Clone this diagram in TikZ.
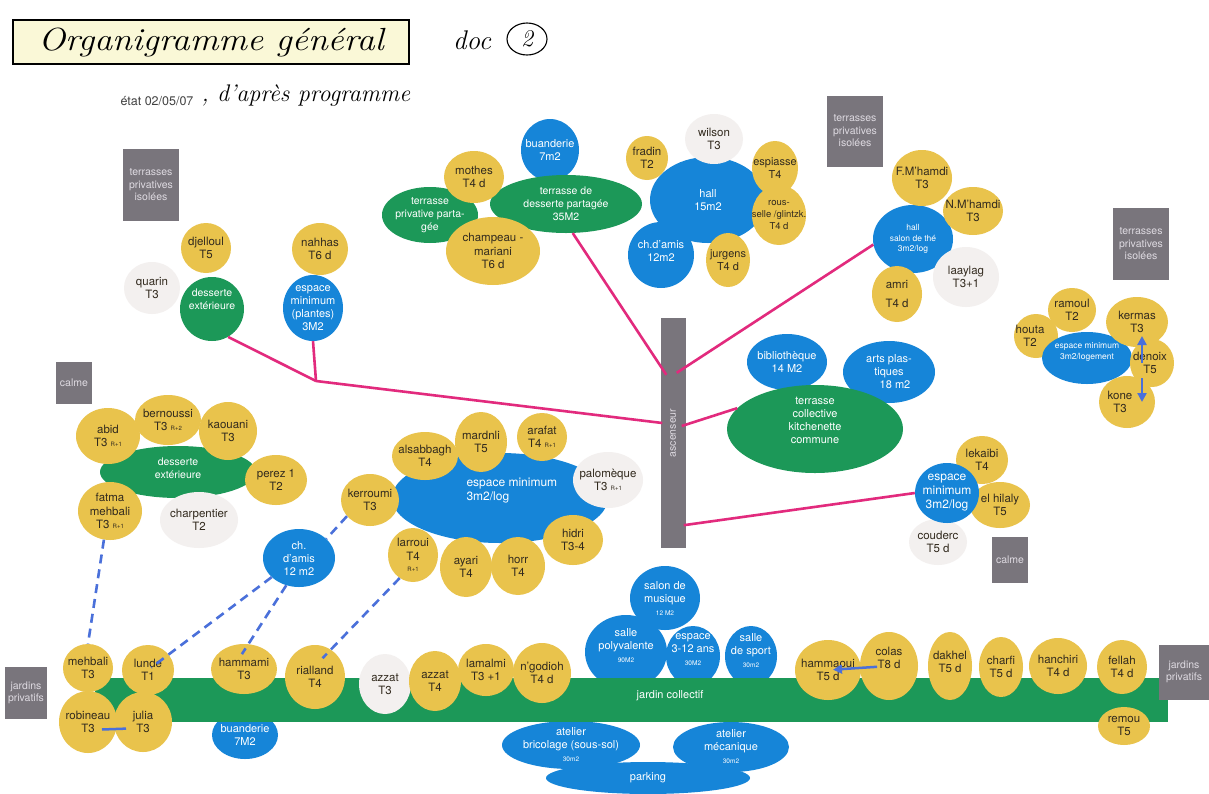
\documentclass[tikz,border=0pt]{standalone}
\usepackage{fontspec}
\setsansfont{TeX Gyre Heros}
\usetikzlibrary{shapes.geometric,arrows.meta,calc}
\definecolor{cy}{RGB}{233,195,76}
\definecolor{cb}{RGB}{22,133,216}
\definecolor{cg}{RGB}{28,152,88}
\definecolor{cw}{RGB}{243,240,239}
\definecolor{cgr}{RGB}{121,117,124}
\definecolor{cgt}{RGB}{222,218,225}
\definecolor{cpk}{RGB}{226,42,125}
\definecolor{cdash}{RGB}{74,112,218}
\definecolor{ctx}{RGB}{50,42,30}
\definecolor{cfill}{RGB}{250,248,215}
\newcommand\fsy{\sffamily\fontsize{11.5}{13.5}\selectfont}
\newcommand\fsz{\sffamily\fontsize{11}{13}\selectfont}
\newcommand\fsg{\sffamily\fontsize{10.5}{13}\selectfont}
\newcommand\fss{\sffamily\fontsize{8.5}{10.5}\selectfont}
\newcommand\fsl{\sffamily\fontsize{12}{14}\selectfont}
\newcommand\fst{\sffamily\fontsize{6.5}{8}\selectfont}
\newcommand\fsr{\sffamily\fontsize{6}{7}\selectfont}
\newcommand\bub[8][]{%
\node[#2, minimum width=#6pt, minimum height=#7pt] (#3) at (#4,#5) {};
\node[#2 t, #1] (#3-t) at (#3.center) {#8};}
\tikzset{
yel/.style={ellipse, fill=cy, inner sep=0pt},
yel t/.style={font=\fsy, text=ctx, align=center},
blu/.style={ellipse, fill=cb, inner sep=0pt},
blu t/.style={font=\fsz, text=white, align=center},
grn/.style={ellipse, fill=cg, inner sep=0pt},
grn t/.style={font=\fsg, text=white, align=center},
wht/.style={ellipse, fill=cw, inner sep=0pt},
wht t/.style={font=\fsy, text=ctx, align=center},
gbox/.style={rectangle, fill=cgr, inner sep=0pt},
gbox t/.style={font=\sffamily\fontsize{10.5}{12.5}\selectfont, text=cgt, align=center},
pk/.style={draw=cpk, line width=2.6pt},
dsh/.style={draw=cdash, line width=2.6pt, dash pattern=on 9pt off 6pt},
barr/.style={draw=cdash, line width=2.5pt, -{Triangle[width=9pt,length=9pt]}},
hand/.style={font=\rmfamily\itshape\fontsize{#1}{#1}\selectfont, text=black}
}
\begin{document}
\begin{tikzpicture}[x=1pt,y=-1pt]
\useasboundingbox (0,0) rectangle (1209,793);
\fill[white] (0,0) rectangle (1209,793);
% title
\node[draw=black, line width=1.1pt, fill=cfill, minimum width=396pt, minimum height=44pt, inner sep=0pt] (tbox) at (211,42) {};
\node[hand=32] (ttl) at (tbox.center) {\scalebox{1.12}[1]{Organigramme général}};
\node[hand=27] (doc) at (472,40) {doc};
\node[ellipse, draw=black, line width=1.1pt, inner sep=0pt, minimum width=40pt, minimum height=32pt, hand=24] (two) at (527,39) {2};
\node[font=\sffamily\fontsize{12.5}{14}\selectfont, text=black!75] (etat) at (157,101) {état 02/05/07};
\node[hand=24, anchor=west] (dap) at (198,96) {, d'après programme};
% top-left cluster
\bub{gbox}{ter1}{151}{185}{56}{72}{terrasses\\privatives\\isolées}
\bub{wht}{quar}{152}{288}{56}{52}{quarin\\T3}
\bub{yel}{djel}{206}{248}{50}{50}{djelloul\\T5}
\bub[yshift=10pt]{grn}{dext}{212}{309}{64}{64}{desserte\\extérieure}
\bub{yel}{nahh}{320}{249}{56}{52}{nahhas\\T6 d}
\bub{blu}{espp}{313}{308}{60}{66}{espace\\minimum\\(plantes)\\3M2}
% top center cluster
\bub{grn}{tpp}{430}{215}{96}{56}{terrasse\\privative parta-\\gée}
\bub{blu}{buan}{550}{150}{58}{62}{buanderie\\7m2}
\bub{grn}{tdp}{566}{204}{152}{58}{terrasse de\\desserte partagée\\35M2}
\bub{yel}{moth}{474}{177}{60}{52}{mothes\\T4 d}
\bub{yel}{champ}{493}{251}{94}{68}{champeau -\\mariani\\T6 d}
\bub{blu}{hall}{708}{200}{116}{86}{hall\\15m2}
\bub{wht}{wils}{714}{139}{58}{50}{wilson\\T3}
\bub{yel}{frad}{647}{158}{42}{44}{fradin\\T2}
\bub[yshift=4pt]{blu}{chda}{661}{255}{66}{66}{ch.d'amis\\12m2}
\bub[font=\fsz]{yel}{jurg}{728}{260}{44}{54}{jurgens\\T4 d}
\bub[font=\fsz]{yel}{espi}{775}{168}{46}{54}{espiasse\\T4}
\bub[font=\sffamily\fontsize{9.5}{12}\selectfont]{yel}{rous}{779}{215}{54}{60}{rous-\\selle /glintzk.\\T4 d}
% top right cluster
\bub{gbox}{ter2}{855}{131}{56}{71}{terrasses\\privatives\\isolées}
\bub[font=\fss]{blu}{hst}{913}{239}{80}{68}{hall\\salon de thé\\3m2/log}
\bub{yel}{fm}{922}{178}{60}{56}{F.M'hamdi\\T3}
\bub{yel}{nm}{973}{211}{60}{48}{N.M'hamdi\\T3}
\bub{yel}{amri}{897}{294}{50}{56}{amri\\[5pt]T4 d}
\bub{wht}{laay}{966}{277}{66}{60}{laaylag\\T3+1}
\bub{gbox}{ter3}{1141}{244}{56}{72}{terrasses\\privatives\\isolées}
% right cluster
\bub[xshift=-6pt]{yel}{hout}{1036}{336}{44}{44}{houta\\T2}
\bub{yel}{ramo}{1072}{310}{48}{44}{ramoul\\T2}
\bub[font=\fss,yshift=6pt]{blu}{emlog}{1087}{358}{90}{52}{espace minimum\\3m2/logement}
\bub{yel}{kerm}{1137}{322}{62}{50}{kermas\\T3}
\bub[xshift=-2pt]{yel}{denx}{1152}{363}{44}{48}{denoix\\T5}
\bub[xshift=-7pt]{yel}{kone}{1127}{402}{56}{52}{kone\\T3}
% left middle cluster
\bub{gbox}{calm1}{74}{383}{36}{42}{calme}
\bub[yshift=4pt]{grn}{dext2}{178}{472}{156}{52}{desserte\\extérieure}
\bub{yel}{bern}{168}{420}{66}{50}{bernoussi\\T3 {\fsr R+2}}
\bub{yel}{abid}{108}{436}{64}{56}{abid\\T3 {\fsr R+1}}
\bub{yel}{kaou}{228}{431}{58}{58}{kaouani\\T3}
\bub{yel}{pere}{276}{480}{62}{50}{perez 1\\T2}
\bub{yel}{fatm}{110}{511}{64}{58}{fatma\\mehbali\\T3 {\fsr R+1}}
\bub{wht}{charp}{199}{520}{78}{56}{charpentier\\T2}
\bub{blu}{chd2}{299}{558}{72}{58}{ch.\\d'amis\\12 m2}
% center cluster
\node[blu, minimum width=216pt, minimum height=90pt] (emc) at (500,498) {};
\node[font=\fsl, text=white, align=left, anchor=west] (emc-t) at (463,491) {espace minimum\\3m2/log};
\bub{yel}{alsa}{425}{456}{66}{48}{alsabbagh\\T4}
\bub{yel}{mard}{481}{442}{52}{60}{mardnli\\T5}
\bub{yel}{araf}{542}{437}{50}{48}{arafat\\T4 {\fsr R+1}}
\bub{wht}{palo}{608}{480}{70}{56}{palomèque\\T3 {\fsr R+1}}
\bub{yel}{kerr}{370}{500}{58}{52}{kerroumi\\T3}
\bub{yel}{hidr}{573}{540}{60}{50}{hidri\\T3-4}
\bub{yel}{larr}{413}{555}{50}{54}{larroui\\T4\\[-2pt]{\fsr R+1}}
\bub{yel}{ayar}{466}{567}{52}{60}{ayari\\T4}
\bub{yel}{horr}{518}{566}{54}{58}{horr\\T4}
% right middle
\node[gbox, minimum width=25pt, minimum height=230pt] (asc) at (673,433) {};
\node[gbox t, rotate=90] (asc-t) at (asc.center) {ascenseur};
\bub{blu}{bib}{787}{362}{80}{56}{bibliothèque\\14 M2}
\bub{blu}{arts}{889}{372}{92}{62}{arts plas-\\tiques\\\hspace*{12pt}18 m2}
\bub[yshift=9pt,font=\fsz]{grn}{tck}{815}{429}{176}{88}{terrasse\\collective\\kitchenette\\commune}
\bub{yel}{leka}{982}{460}{52}{48}{lekaibi\\T4}
\bub{yel}{elhi}{1000}{505}{60}{46}{el hilaly\\T5}
\bub{wht}{coud}{938}{542}{58}{46}{couderc\\T5 d}
\bub[font=\fsl]{blu}{emr}{947}{493}{64}{60}{espace\\minimum\\3m2/log}
\bub{gbox}{calm2}{1010}{560}{36}{46}{calme}
% bottom: blue under the garden
\bub[yshift=6pt]{blu}{poly}{626}{652}{82}{74}{salle\\polyvalente\\{\fst 90M2}}
\bub[yshift=6pt]{blu}{e312}{693}{656}{54}{60}{espace\\3-12 ans\\{\fst 30M2}}
\bub[yshift=5pt]{blu}{sport}{751}{656}{52}{60}{salle\\de sport\\{\fst 30m2}}
\bub{blu}{musi}{665}{598}{70}{64}{salon de\\musique\\{\fst 12 M2}}
\bub{blu}{buan2}{245}{735}{66}{48}{buanderie\\7M2}
\bub{blu}{park}{648}{778}{204}{32}{parking}
\bub{blu}{atb}{571}{745}{138}{48}{atelier\\bricolage (sous-sol)\\{\fst 30m2}}
\bub{blu}{atm}{731}{747}{116}{50}{atelier\\mécanique\\{\fst 30m2}}
% garden bar
\node[rectangle, fill=cg, inner sep=0pt, minimum width=1073pt, minimum height=44pt] (bar) at (631.5,700) {};
\node[font=\fsz, text=white] (bar-t) at (670,696) {jardin collectif};
\bub{gbox}{jp1}{26}{693}{42}{52}{jardins\\privatifs}
\bub{gbox}{jp2}{1184}{672}{50}{55}{jardins\\privatifs}
% bottom yellows
\bub{yel}{meh}{88}{668}{50}{48}{mehbali\\T3}
\bub{yel}{lund}{148}{670}{52}{50}{lunde\\T1}
\bub{yel}{hamm}{244}{669}{66}{50}{hammami\\T3}
\bub{yel}{rial}{315}{677}{60}{64}{rialland\\T4}
\bub{wht}{azz3}{385}{684}{52}{60}{azzat\\T3}
\bub{yel}{azz4}{435}{681}{52}{60}{azzat\\T4}
\bub{yel}{lama}{486}{670}{56}{52}{lamalmi\\T3 +1}
\bub{yel}{ngod}{542}{673}{58}{60}{n'godioh\\T4 d}
\bub{yel}{jul}{143}{722}{58}{60}{julia\\T3}
\bub{yel}{rob}{88}{722}{58}{62}{robineau\\T3}
\bub{yel}{hamo}{828}{670}{66}{60}{hammaoui\\T5 d}
\bub[yshift=8pt]{yel}{cola}{889}{666}{58}{68}{colas\\T8 d}
\bub[yshift=4pt]{yel}{dakh}{950}{666}{44}{68}{dakhel\\T5 d}
\bub{yel}{charf}{1001}{667}{44}{60}{charfi\\T5 d}
\bub{yel}{hanc}{1058}{666}{58}{56}{hanchiri\\T4 d}
\bub{yel}{fell}{1122}{667}{50}{54}{fellah\\T4 d}
\bub{yel}{remo}{1124}{726}{52}{38}{remou\\T5}
% pink connectors
\coordinate (j1) at (316,381);
\draw[pk] (dext.300) -- (j1);
\draw[pk] (espp.south) -- (j1);
\draw[pk] (j1) -- ($(asc.west)+(2,-10)$);
\draw[pk] (tdp.283) -- ($(asc.north west)+(6,57)$);
\draw[pk] (hst.188) -- ($(asc.north east)+(-9,55)$);
\draw[pk] (tck.165) -- ($(asc.east)+(-4,-7)$);
\draw[pk] (emr.west) -- ($(asc.south east)+(-2,-23)$);
% blue dashed connectors
\draw[dsh] (fatm.258) -- (meh.north);
\draw[dsh] (kerr.215) -- (chd2.35);
\draw[dsh, shorten >=4pt] (chd2.215) -- (lund.center);
\draw[dsh, shorten >=-12pt] (chd2.245) -- (hamm.80);
\draw[dsh, shorten >=-12pt] (larr.240) -- (rial.60);
% blue arrows
\draw[barr] ([xshift=-10pt]denx.center) -- ([xshift=5pt,yshift=-14pt]kerm.center);
\draw[barr] ([xshift=-10pt,yshift=-15pt]denx.center) -- ([xshift=15pt]kone.center);
\draw[barr, shorten <=12pt, shorten >=5pt] (cola.center) -- (hamo.center);
\draw[draw=cdash, line width=2.5pt, shorten <=14pt, shorten >=17pt] ([yshift=-8pt]rob.center) -- ([yshift=-6pt]jul.center);
\end{tikzpicture}
\end{document}
